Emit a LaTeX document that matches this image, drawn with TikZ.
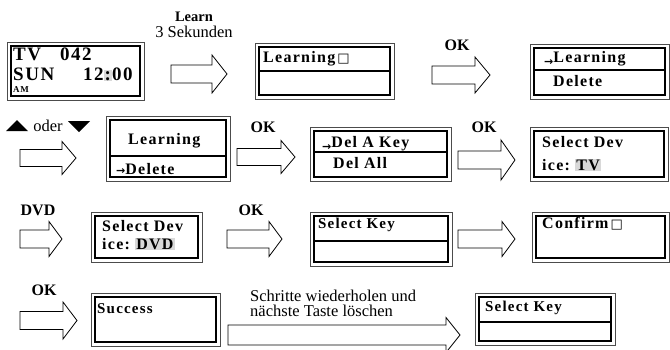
\documentclass[tikz,border=0pt]{standalone}
\usepackage{fontspec}
\setmainfont{Liberation Serif}
\newfontfamily\lcdfont[LetterSpace=8]{Liberation Serif}
\newfontfamily\symfont{DejaVu Sans}
\usetikzlibrary{positioning}

\definecolor{hlgray}{gray}{0.85}
\definecolor{framegray}{gray}{0.3}

\newcommand\hilite[1]{{\setlength\fboxsep{1pt}\colorbox{hlgray}{#1}}}
\newcommand\boxglyph{{\symfont\fontsize{13}{13}\selectfont\,□}}
\newcommand\pointer{{\symfont\bfseries\fontsize{11}{11}\selectfont →}}
\newcommand\lowpointer{\raisebox{-3pt}{\pointer}}

% block arrow: left x, right x, centre y, head length, shaft half, head half
\newcommand\bigarrow[6]{%
  \draw[bigarrow] (#1,#3-#5) -- (#2-#4,#3-#5) -- (#2-#4,#3-#6) -- (#2,#3)
    -- (#2-#4,#3+#6) -- (#2-#4,#3+#5) -- (#1,#3+#5) -- cycle;}

\tikzset{ lcd/.style = { draw = framegray, line width = 0.9, inner sep = 0 }
        , lcdline/.style = { draw = black, line width = 2 }
        , lcdtext/.style = { anchor = base west, inner sep = 0
                           , font = \lcdfont\bfseries\fontsize{16}{16}\selectfont }
        , bigarrow/.style = { draw = black, line width = 0.8, fill = white }
        , caption/.style = { inner sep = 0, font = \fontsize{16.5}{15}\selectfont }
        , keyname/.style = { inner sep = 0, font = \bfseries\fontsize{16}{16}\selectfont }
        }

\begin{document}
\begin{tikzpicture}[x = 1pt, y = -1pt]
  \useasboundingbox (0,0) rectangle (670,349);

  % screens
  \foreach \n/\c/\w/\h in { s1/{75.5,71}/137/58, s2/{324.5,71}/139/56
                          , s3/{599.5,71.5}/139/55, s4/{168,148.5}/124/65
                          , s5/{380.5,154}/141/54, s6/{599,154}/138/54
                          , s7/{146.5,237}/111/50, s8/{381,239}/142/54
                          , s9/{600.5,237}/137/50, s10/{155.5,319.5}/129/53
                          , s11/{545,319}/140/52 }
    \node[lcd, minimum width = \w, minimum height = \h] (\n) at (\c) {};

  \foreach \n in {s1,s2,s3,s4,s5,s6,s7,s8,s9,s10,s11}
    \draw[lcdline] ([shift={(4,4)}]\n.north west) rectangle ([shift={(-4,-4)}]\n.south east);

  \foreach \n/\y in {s2/71, s3/70, s4/156, s5/152, s8/241, s11/322}
    \draw[lcdline, line width = 1.3, shorten < = 4, shorten > = 4]
      (\n.west |- 0,\y) -- (\n.east |- 0,\y);

  % screen texts
  \node[lcdtext, font = \lcdfont\bfseries\fontsize{19}{19}\selectfont] (tv) at (13,60) {TV};
  \node[lcdtext, font = \lcdfont\bfseries\fontsize{19}{19}\selectfont] (ch) at (60,60) {042};
  \node[lcdtext, font = \lcdfont\bfseries\fontsize{19}{19}\selectfont] (day) at (13,80) {SUN};
  \node[lcdtext, font = \lcdfont\bfseries\fontsize{19}{19}\selectfont] (time) at (83,80) {12\hilite{:}00};
  \node[lcdtext, font = \lcdfont\bfseries\fontsize{9}{9}\selectfont] (am) at (13,92) {AM};

  \node[lcdtext] (learn1) at (263,62) {Learning\boxglyph};
  \node[lcdtext] (learn2) at (544,62) {\lowpointer Learning};
  \node[lcdtext] (del1) at (553,86) {Delete};
  \node[lcdtext] (learn3) at (128,144) {Learning};
  \node[lcdtext] (del2) at (116,174) {\pointer Delete};
  \node[lcdtext] (delkey) at (322,147) {\lowpointer Del A Key};
  \node[lcdtext] (delall) at (333,168) {Del All};
  \node[lcdtext] (dev1) at (542,147) {Select Dev};
  \node[lcdtext] (ice1) at (542,170) {ice:\ \hilite{TV}};
  \node[lcdtext] (dev2) at (102,231) {Select Dev};
  \node[lcdtext] (ice2) at (102,249) {ice:\ \hilite{DVD}};
  \node[lcdtext, font = \lcdfont\bfseries\fontsize{15}{15}\selectfont] (key1) at (318,228) {Select Key};
  \node[lcdtext] (confirm) at (542,228) {Confirm\boxglyph};
  \node[lcdtext, font = \lcdfont\bfseries\fontsize{15}{15}\selectfont] (success) at (97,313) {Success};
  \node[lcdtext, font = \lcdfont\bfseries\fontsize{15}{15}\selectfont] (key2) at (485,311) {Select Key};

  % block arrows
  \foreach \xa/\xb/\yc/\hlen/\shalf/\hhalf in { 171/227/74/15/9/19, 432/490/75/15/9/18
                                              , 20/76/158/14/8.5/16.5, 237/295/157/14/8.5/16.5
                                              , 458/515/160/14/9/20, 20/62/239/13/9/17.5
                                              , 227/282/239/13/9/17.5, 458/515/239/13/9/17.5
                                              , 20/77/320.5/14/9/18.5, 228/460/335/14/10/17.5 }
    {\bigarrow{\xa}{\xb}{\yc}{\hlen}{\shalf}{\hhalf}}

  % key labels
  \node[keyname, font = \bfseries\fontsize{14.5}{14.5}\selectfont] (learnkey) at (194,17) {Learn};
  \node[caption] (hold) at (194,32) {3 Sekunden};
  \node[keyname] (ok1) at (457,45) {OK};
  \fill (6,131) -- (28,131) -- (17,120) -- cycle;
  \node[caption, anchor = base] (oder) at (48,131) {oder};
  \fill (68,121) -- (90,121) -- (79,132) -- cycle;
  \node[keyname] (ok2) at (263,127) {OK};
  \node[keyname] (ok3) at (484,127) {OK};
  \node[keyname] (dvd) at (38,210) {DVD};
  \node[keyname] (ok4) at (251,210) {OK};
  \node[keyname] (ok5) at (44,290) {OK};
  \node[caption, anchor = north west, align = left] (repeat) at (250,290)
    {Schritte wiederholen und\\nächste Taste löschen};
\end{tikzpicture}
\end{document}
